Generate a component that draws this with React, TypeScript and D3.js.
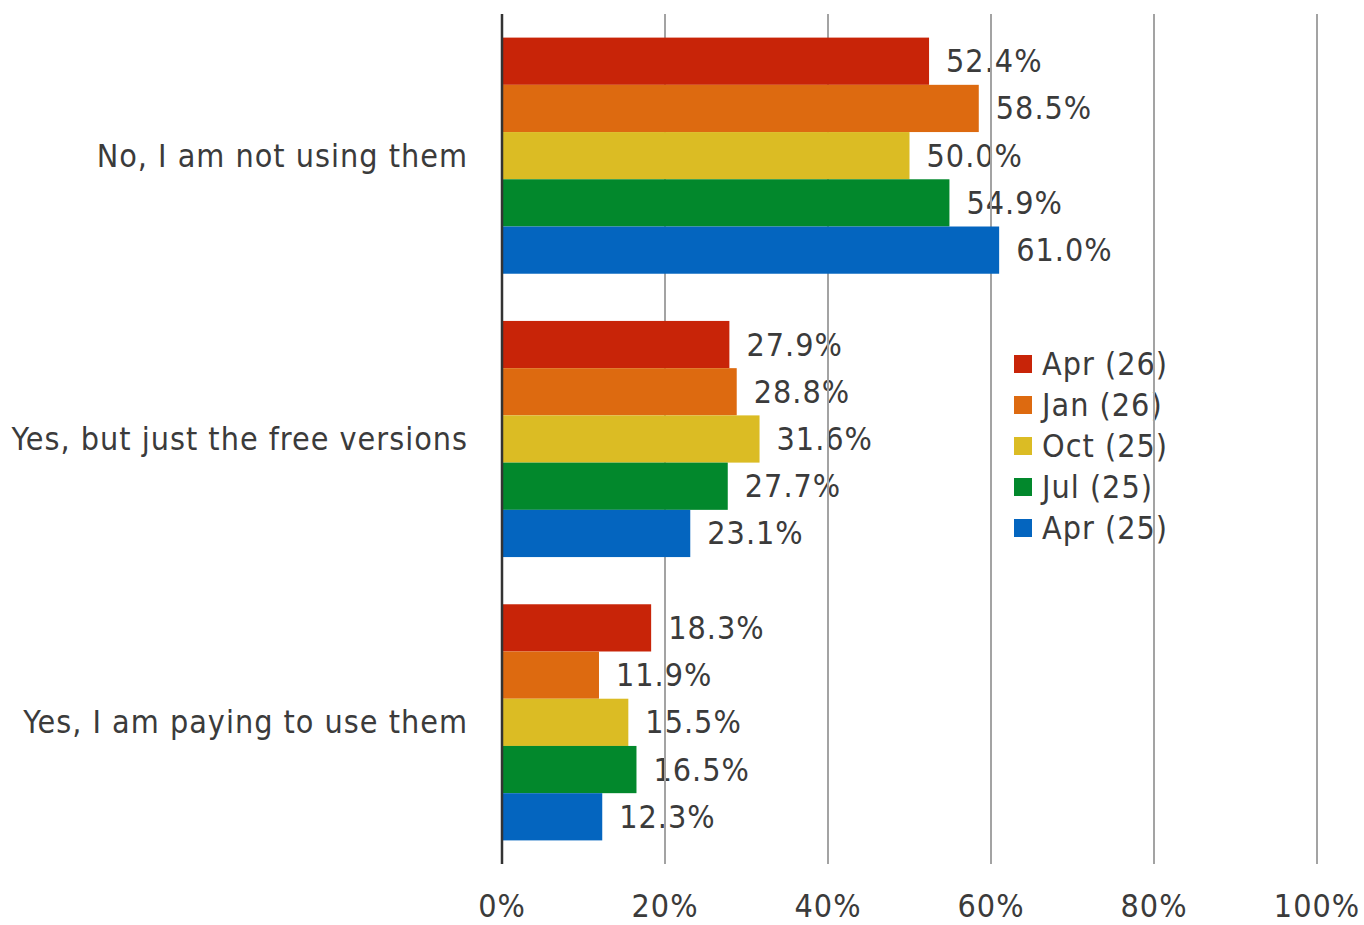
import React from "react";
import * as d3 from "d3";

const categories = ["No, I am not using them", "Yes, but just the free versions", "Yes, I am paying to use them"];
const seriesNames = ["Apr (26)", "Jan (26)", "Oct (25)", "Jul (25)", "Apr (25)"];
const seriesColors = ["#C82408", "#DD6A10", "#DBBC24", "#02882C", "#0465BF"];
const apr26 = [52.4, 27.9, 18.3];
const jan26 = [58.5, 28.8, 11.9];
const oct25 = [50.0, 31.6, 15.5];
const jul25 = [54.9, 27.7, 16.5];
const apr25 = [61.0, 23.1, 12.3];
const seriesValues = [apr26, jan26, oct25, jul25, apr25];
const xTicks = [0, 20, 40, 60, 80, 100];

const W = 1364;
const H = 925;
const FONT = "'DejaVu Sans Condensed', 'DejaVu Sans', sans-serif";
const TEXT = "#3b3b3b";
const TSTYLE = { fontStretch: "condensed", letterSpacing: "1px" } as React.CSSProperties;

export default function App() {
  const x = d3.scaleLinear().domain([0, 100]).range([502, 1317]);
  const y = d3.scaleBand<string>().domain(categories).range([14, 864]).paddingInner(0).paddingOuter(0);
  const bw = y.bandwidth();
  const inner = d3.scaleBand<string>().domain(seriesNames).range([bw * 0.0833, bw * 0.9167]);
  const fs = 32;

  return (
    <svg width={W} height={H} style={{ position: "absolute", left: 0, top: 0, fontFamily: FONT }}>
      <rect width={W} height={H} fill="#fff" />
      {/* category labels */}
      {categories.map((c) => (
        <text key={c} x={468} y={(y(c) as number) + bw / 2 + 11} textAnchor="end" fontSize={fs} fill={TEXT} style={TSTYLE}>
          {c}
        </text>
      ))}
      {/* data labels */}
      {seriesNames.map((s, si) =>
        categories.map((c, ci) => {
          const v = seriesValues[si][ci];
          const yy = (y(c) as number) + (inner(s) as number) + inner.bandwidth() / 2;
          return (
            <text key={s + c} x={x(v) + 17} y={yy + 11} fontSize={fs} fill={TEXT} style={TSTYLE}>
              {v.toFixed(1) + "%"}
            </text>
          );
        })
      )}
      {/* legend */}
      {seriesNames.map((s, i) => (
        <g key={s} transform={`translate(1014, ${364 + i * 41})`}>
          <rect x={0} y={-9} width={18} height={18} fill={seriesColors[i]} />
          <text x={28} y={11} fontSize={fs} fill={TEXT} style={TSTYLE}>
            {s}
          </text>
        </g>
      ))}
      {/* gridlines */}
      {xTicks.filter((t) => t > 0).map((t) => (
        <line key={t} x1={x(t)} x2={x(t)} y1={14} y2={864} stroke="#a3a3a3" strokeWidth={2} />
      ))}
      {/* bars */}
      {seriesNames.map((s, si) =>
        categories.map((c, ci) => (
          <rect
            key={s + c}
            x={x(0)}
            y={(y(c) as number) + (inner(s) as number)}
            width={x(seriesValues[si][ci]) - x(0)}
            height={inner.bandwidth()}
            fill={seriesColors[si]}
          />
        ))
      )}
      {/* axis line */}
      <line x1={x(0)} x2={x(0)} y1={14} y2={864} stroke="#333" strokeWidth={2.5} />
      {/* tick labels */}
      {xTicks.map((t) => (
        <text key={t} x={x(t)} y={917} textAnchor="middle" fontSize={fs} fill={TEXT} style={TSTYLE}>
          {t + "%"}
        </text>
      ))}
    </svg>
  );
}
